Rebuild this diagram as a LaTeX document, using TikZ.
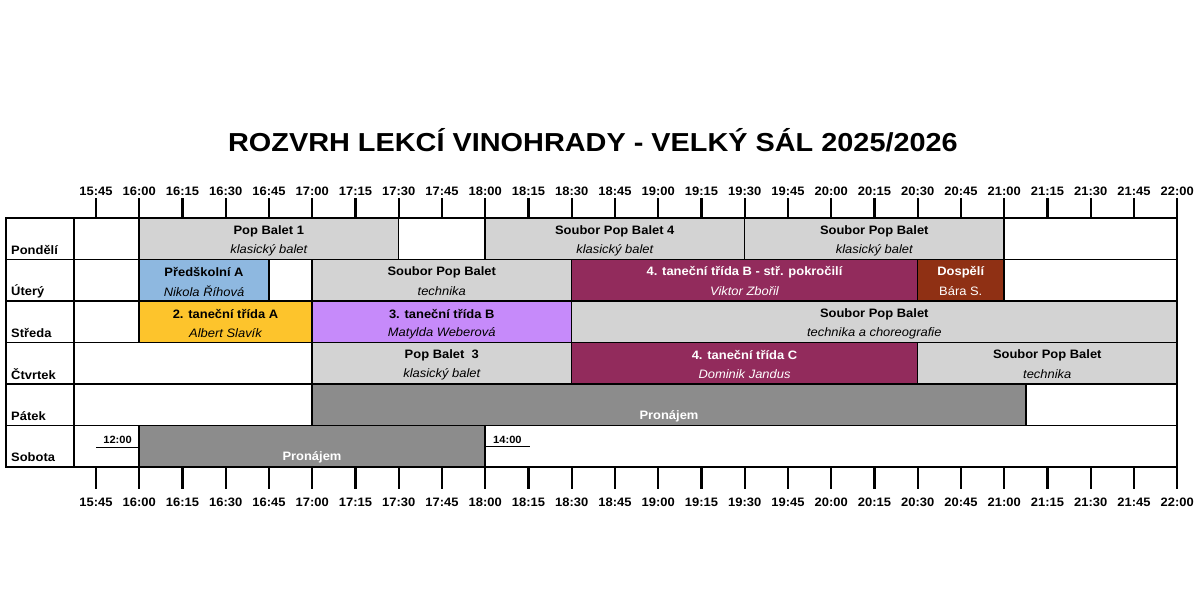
\documentclass[tikz,border=0pt]{standalone}
\usepackage{fontspec}
\setmainfont{Liberation Sans}[FakeStretch=1.06]
\newfontfamily\titlefont{Liberation Sans}[FakeStretch=1.11]
\definecolor{lgray}{HTML}{D3D3D3}
\definecolor{dgray}{HTML}{8C8C8C}
\definecolor{cblue}{HTML}{8EB8E0}
\definecolor{corange}{HTML}{FDC42C}
\definecolor{cpurple}{HTML}{C68AFA}
\definecolor{cmagenta}{HTML}{922B5C}
\definecolor{cbrown}{HTML}{8F3014}
\tikzset{
  cellbox/.style={draw=black, line width=1.7pt},
  ttl/.style={font=\bfseries\fontsize{12.2}{14}\selectfont, inner sep=0pt},
  subt/.style={font=\itshape\fontsize{12.2}{14}\selectfont, inner sep=0pt},
  daylbl/.style={font=\bfseries\fontsize{12.2}{14}\selectfont, anchor=west, inner sep=0pt},
  timelbl/.style={font=\bfseries\fontsize{12.2}{14}\selectfont, inner sep=0pt},
  marklbl/.style={font=\bfseries\fontsize{10.5}{12}\selectfont, inner sep=0pt},
  tickline/.style={line width=2.2pt},
  markline/.style={line width=1pt},
}
\newcommand\schedcell[8]{%
  \draw[cellbox, fill=#5] (#2,#4) rectangle (#3,#4+41.5);
  \node[ttl, text=#8] (#1t) at ({(#2+#3)/2},#4+13) {#6};
  \node[subt, text=#8] (#1s) at ({(#2+#3)/2},#4+32) {#7};
}
\begin{document}
\begin{tikzpicture}[x=1pt,y=-1pt]
\useasboundingbox[fill=white] (0,0) rectangle (1200,616);
\node[font=\titlefont\bfseries\fontsize{26}{30}\selectfont, inner sep=0pt] (title) at (593,140) {ROZVRH LEKCÍ VINOHRADY - VELKÝ SÁL 2025/2026};
% ticks and time labels
\foreach \lab [count=\i from 0] in {15:45,16:00,16:15,16:30,16:45,17:00,17:15,17:30,17:45,18:00,18:15,18:30,18:45,19:00,19:15,19:30,19:45,20:00,20:15,20:30,20:45,21:00,21:15,21:30,21:45,22:00}{
  \coordinate (tt\i) at (96+\i*43.25,198);
  \coordinate (tb\i) at (96+\i*43.25,218);
  \coordinate (bt\i) at (96+\i*43.25,467);
  \coordinate (bb\i) at (96+\i*43.25,489);
  \draw[tickline] (tt\i) -- (tb\i);
  \draw[tickline] (bt\i) -- (bb\i);
  \node[timelbl] (lt\i) at (96+\i*43.25,191) {\lab};
  \node[timelbl] (lb\i) at (96+\i*43.25,502) {\lab};
}
% day label column
\foreach \d/\top [count=\j] in {Pondělí/218,Úterý/259.5,Středa/301,Čtvrtek/342.5,Pátek/384,Sobota/425.5}{
  \draw[cellbox, fill=white] (6,\top) rectangle (74,\top+41.5);
  \node[daylbl] (day\j) at (11,\top+32) {\d};
}
% Pondeli
\schedcell{a1}{74}{139}{218}{white}{}{}{black}
\schedcell{a2}{139}{398.5}{218}{lgray}{Pop Balet 1}{klasický balet}{black}
\schedcell{a3}{398.5}{485}{218}{white}{}{}{black}
\schedcell{a4}{485}{744.5}{218}{lgray}{Soubor Pop Balet 4}{klasický balet}{black}
\schedcell{a5}{744.5}{1004}{218}{lgray}{Soubor Pop Balet}{klasický balet}{black}
\schedcell{a6}{1004}{1177}{218}{white}{}{}{black}
% Utery
\schedcell{b1}{74}{139}{259.5}{white}{}{}{black}
\schedcell{b2}{139}{269}{259.5}{cblue}{Předškolní A}{Nikola Říhová}{black}
\schedcell{b3}{269}{312}{259.5}{white}{}{}{black}
\schedcell{b4}{312}{571.5}{259.5}{lgray}{Soubor Pop Balet}{technika}{black}
\schedcell{b5}{571.5}{917.5}{259.5}{cmagenta}{4. taneční třída B - stř. pokročilí}{Viktor Zbořil}{white}
\schedcell{b6}{917.5}{1004}{259.5}{cbrown}{Dospělí}{\upshape Bára S.}{white}
\schedcell{b7}{1004}{1177}{259.5}{white}{}{}{black}
% Streda
\schedcell{c1}{74}{139}{301}{white}{}{}{black}
\schedcell{c2}{139}{312}{301}{corange}{2. taneční třída A}{Albert Slavík}{black}
\schedcell{c3}{312}{571.5}{301}{cpurple}{3. taneční třída B}{Matylda Weberová}{black}
\schedcell{c4}{571.5}{1177}{301}{lgray}{Soubor Pop Balet}{technika a choreografie}{black}
% Ctvrtek
\schedcell{d1}{74}{312}{342.5}{white}{}{}{black}
\schedcell{d2}{312}{571.5}{342.5}{lgray}{Pop Balet\ \ 3}{klasický balet}{black}
\schedcell{d3}{571.5}{917.5}{342.5}{cmagenta}{4. taneční třída C}{Dominik Jandus}{white}
\schedcell{d4}{917.5}{1177}{342.5}{lgray}{Soubor Pop Balet}{technika}{black}
% Patek
\schedcell{e1}{74}{312}{384}{white}{}{}{black}
\schedcell{e2}{312}{1026}{384}{dgray}{}{\bfseries\upshape Pronájem}{white}
\schedcell{e3}{1026}{1177}{384}{white}{}{}{black}
% Sobota
\schedcell{f1}{74}{139}{425.5}{white}{}{}{black}
\schedcell{f2}{139}{485}{425.5}{dgray}{}{\bfseries\upshape Pronájem}{white}
\schedcell{f3}{485}{1177}{425.5}{white}{}{}{black}
% start/end marks on Saturday
\node[marklbl, anchor=east] (m12) at (132,440) {12:00};
\coordinate (m12a) at (96,447);
\coordinate (m12b) at (139,447);
\draw[markline] (m12a) -- (m12b);
\node[marklbl, anchor=west] (m14) at (493,440) {14:00};
\coordinate (m14a) at (486,446.5);
\coordinate (m14b) at (530,446.5);
\draw[markline] (m14a) -- (m14b);
% outer frame
\draw[cellbox] (6,218) rectangle (1177,467);
\end{tikzpicture}
\end{document}
